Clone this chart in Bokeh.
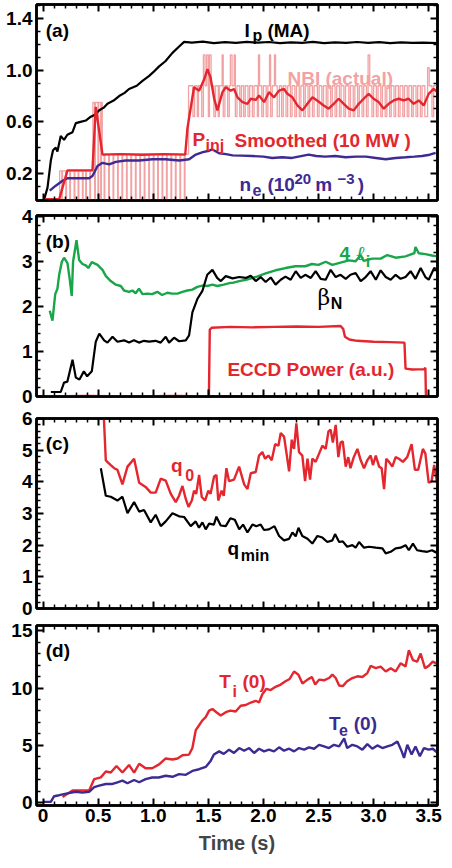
import numpy as np
from bokeh.plotting import figure
from bokeh.layouts import column
from bokeh.models import (Range1d, LinearAxis, FixedTicker, Label, PrintfTickFormatter,
                          CustomLabelingPolicy)
from bokeh.embed import file_html
from bokeh.resources import INLINE

# ---------------- data ----------------
# Panel (a)
ip_t = [0.01, 0.04, 0.07, 0.09, 0.115, 0.13, 0.16, 0.19, 0.22, 0.267, 0.297, 0.34, 0.387, 0.433,
        0.47, 0.51, 0.55, 0.584, 0.64, 0.69, 0.74, 0.78, 0.85, 0.902, 0.96, 1.0, 1.053, 1.11, 1.174,
        1.23, 1.28, 1.35, 1.45, 1.55, 1.65, 1.75, 1.85, 1.95, 2.05, 2.15, 2.25, 2.35, 2.45, 2.55,
        2.65, 2.75, 2.85, 2.95, 3.05, 3.15, 3.25, 3.35, 3.45, 3.58]
ip_v = [0.0, 0.09, 0.30, 0.38, 0.40, 0.37, 0.49, 0.46, 0.50, 0.52, 0.59, 0.60, 0.61, 0.64,
        0.655, 0.69, 0.71, 0.74, 0.765, 0.80, 0.825, 0.855, 0.88, 0.918, 0.955, 0.985, 1.03, 1.07, 1.135,
        1.18, 1.22, 1.215, 1.222, 1.21, 1.218, 1.212, 1.22, 1.214, 1.219, 1.21, 1.217, 1.212, 1.22, 1.21,
        1.216, 1.212, 1.219, 1.213, 1.218, 1.21, 1.216, 1.212, 1.215, 1.21]

pinj_t = [0.025, 0.146, 0.221, 0.448, 0.478, 0.539, 0.70, 0.90, 1.10, 1.29, 1.31, 1.37, 1.416, 1.462,
          1.492, 1.52, 1.553, 1.582, 1.628, 1.658, 1.703, 1.734, 1.764, 1.81, 1.855, 1.885, 1.93,
          1.96, 2.006, 2.05, 2.096, 2.142, 2.187, 2.217, 2.263, 2.308, 2.354, 2.399, 2.445, 2.487,
          2.547, 2.592, 2.638, 2.683, 2.729, 2.774, 2.82, 2.865, 2.91, 2.955, 3.0, 3.046, 3.092,
          3.137, 3.182, 3.228, 3.273, 3.318, 3.364, 3.41, 3.455, 3.5, 3.545, 3.58]
pinj_v = [0.0, 0.0, 0.224, 0.224, 0.715, 0.346, 0.35, 0.345, 0.35, 0.346, 0.55, 0.868, 0.842, 0.93,
          1.008, 0.944, 0.779, 0.689, 0.83, 0.868, 0.842, 0.855, 0.79, 0.753, 0.74, 0.779, 0.77,
          0.804, 0.753, 0.83, 0.79, 0.842, 0.855, 0.817, 0.79, 0.727, 0.689, 0.74, 0.79, 0.766,
          0.727, 0.702, 0.74, 0.779, 0.74, 0.702, 0.689, 0.74, 0.779, 0.817, 0.779, 0.753, 0.702,
          0.74, 0.766, 0.779, 0.766, 0.779, 0.74, 0.766, 0.727, 0.817, 0.855, 0.83]

# NBI (actual): switching times and the level held after each switch
nbi_t = [0.0, 0.15, 0.17, 0.176, 0.206, 0.212, 0.242, 0.248, 0.282, 0.288, 0.318, 0.324, 0.357, 0.363,
         0.387, 0.393, 0.424, 0.43, 0.452, 0.468, 0.474, 0.498, 0.504, 0.523, 0.529, 0.537,
         0.554, 0.56, 0.595, 0.601, 0.635, 0.641, 0.676, 0.682, 0.716, 0.722, 0.757, 0.763,
         0.797, 0.803, 0.838, 0.844, 0.878, 0.884, 0.918, 0.924, 0.959, 0.965, 1.0, 1.006,
         1.04, 1.046, 1.08, 1.086, 1.12, 1.126, 1.161, 1.167, 1.201, 1.207, 1.242, 1.248,
         1.282, 1.288, 1.32, 1.36, 1.375, 1.40, 1.41, 1.44, 1.455, 1.47, 1.485, 1.50, 1.51,
         1.525, 1.55, 1.565, 1.59, 1.60, 1.625, 1.635, 1.65, 1.675, 1.69, 1.70, 1.715, 1.735,
         1.745, 1.76, 1.785, 1.80, 1.82, 1.835, 1.86, 1.875, 1.90, 1.915, 1.945, 1.955, 1.965,
         1.985, 2.0, 2.025, 2.04, 2.055, 2.065, 2.08, 2.10, 2.11, 2.125, 2.145, 2.165, 2.18,
         2.205, 2.22, 2.245, 2.26, 2.285, 2.30, 2.325, 2.34, 2.365, 2.38, 2.405, 2.42, 2.445,
         2.46, 2.49, 2.505, 2.53, 2.545, 2.57, 2.585, 2.61, 2.625, 2.65, 2.665, 2.69, 2.705,
         2.73, 2.745, 2.775, 2.79, 2.815, 2.83, 2.855, 2.87, 2.895, 2.91, 2.935, 2.95, 2.965,
         2.985, 3.0, 3.025, 3.04, 3.065, 3.08, 3.105, 3.12, 3.145, 3.16, 3.185, 3.2, 3.225,
         3.24, 3.265, 3.28, 3.305, 3.32, 3.345, 3.36, 3.385, 3.40, 3.425, 3.44, 3.465, 3.49,
         3.505, 3.53, 3.545, 3.58]
nbi_v = [0.0, 0.22, 0.0, 0.22, 0.0, 0.22, 0.0, 0.22, 0.0, 0.22, 0.0, 0.22, 0.0, 0.22,
         0.0, 0.22, 0.0, 0.22, 0.75, 0.0, 0.75, 0.0, 0.75, 0.0, 0.75, 0.35,
         0.0, 0.35, 0.0, 0.35, 0.0, 0.35, 0.0, 0.35, 0.0, 0.35, 0.0, 0.35,
         0.0, 0.35, 0.0, 0.35, 0.0, 0.35, 0.0, 0.35, 0.0, 0.35, 0.0, 0.35,
         0.0, 0.35, 0.0, 0.35, 0.0, 0.35, 0.0, 0.35, 0.0, 0.35, 0.0, 0.35,
         0.0, 0.35, 0.88, 0.64, 0.88, 0.64, 0.88, 0.64, 1.12, 0.88, 1.12, 0.64, 1.12,
         0.88, 0.64, 0.88, 0.64, 0.88, 1.12, 0.64, 0.88, 0.64, 0.88, 1.12, 0.88, 1.12,
         0.64, 0.88, 0.64, 0.88, 0.64, 0.88, 0.64, 0.88, 0.64, 0.88, 0.64, 1.12, 0.88,
         0.64, 0.88, 0.64, 0.88, 1.12, 0.64, 0.88, 1.12, 0.88, 0.64, 0.88, 0.64, 0.88,
         0.64, 0.88, 0.64, 0.88, 0.64, 0.88, 0.64, 0.88, 0.64, 0.88, 0.64, 0.88, 0.64,
         0.88, 0.64, 0.88, 0.64, 0.88, 0.64, 0.88, 0.64, 0.88, 0.64, 0.88, 0.64, 0.88,
         0.64, 0.88, 0.64, 0.88, 0.64, 0.88, 0.64, 0.88, 0.64, 0.88, 0.64, 1.12, 0.88,
         0.64, 0.88, 0.64, 0.88, 0.64, 0.88, 0.64, 0.88, 0.64, 0.88, 0.64, 0.88, 0.64,
         0.88, 0.64, 0.88, 0.64, 0.88, 0.64, 0.88, 0.64, 0.88, 0.64, 0.88, 0.64, 1.02,
         0.88, 0.64, 0.88, 0.88]

ne_t = [0.06, 0.115, 0.176, 0.221, 0.297, 0.418, 0.448, 0.494, 0.539, 0.60, 0.66, 0.75, 0.87,
        0.993, 1.11, 1.235, 1.326, 1.386, 1.45, 1.507, 1.537, 1.598, 1.66, 1.72, 1.80, 1.90,
        2.0, 2.08, 2.17, 2.26, 2.41, 2.48, 2.56, 2.65, 2.747, 2.84, 2.93, 3.02, 3.11, 3.2,
        3.29, 3.37, 3.44, 3.51, 3.563]
ne_v = [0.066, 0.105, 0.143, 0.163, 0.163, 0.163, 0.18, 0.257, 0.282, 0.27, 0.29, 0.30, 0.30,
        0.31, 0.31, 0.30, 0.31, 0.346, 0.365, 0.376, 0.386, 0.356, 0.35, 0.34, 0.338, 0.335,
        0.33, 0.32, 0.325, 0.32, 0.346, 0.335, 0.33, 0.335, 0.325, 0.33, 0.33, 0.32, 0.31,
        0.32, 0.325, 0.33, 0.335, 0.345, 0.36]

# Panel (b)
bn_t = [0.07, 0.16, 0.19, 0.22, 0.267, 0.297, 0.33, 0.37, 0.40, 0.442, 0.478, 0.51, 0.554, 0.584,
        0.63, 0.675, 0.735, 0.78, 0.825, 0.87, 0.916, 0.962, 1.02, 1.067, 1.113, 1.143, 1.189,
        1.234, 1.295, 1.325, 1.355, 1.40, 1.446, 1.49, 1.537, 1.58, 1.613, 1.658, 1.72, 1.78,
        1.84, 1.885, 1.93, 1.975, 2.02, 2.066, 2.11, 2.157, 2.20, 2.247, 2.293, 2.338, 2.38,
        2.43, 2.474, 2.52, 2.565, 2.61, 2.656, 2.70, 2.747, 2.79, 2.837, 2.883, 2.928, 2.973,
        3.02, 3.064, 3.11, 3.155, 3.20, 3.245, 3.29, 3.336, 3.38, 3.427, 3.47, 3.50, 3.55, 3.58]
bn_v = [0.10, 0.10, 0.31, 0.33, 0.82, 0.42, 0.38, 0.56, 0.45, 0.56, 1.22, 1.40, 1.25, 1.20,
        1.33, 1.22, 1.25, 1.20, 1.25, 1.20, 1.24, 1.22, 1.24, 1.20, 1.33, 1.20, 1.31,
        1.23, 1.25, 1.36, 1.875, 2.17, 2.35, 2.71, 2.82, 2.64, 2.57, 2.68, 2.63, 2.66,
        2.64, 2.69, 2.57, 2.66, 2.55, 2.65, 2.49, 2.60, 2.67, 2.60, 2.79, 2.64, 2.71,
        2.64, 2.79, 2.62, 2.60, 2.82, 2.66, 2.71, 2.62, 2.71, 2.75, 2.57, 2.66, 2.79,
        2.60, 2.81, 2.66, 2.60, 2.71, 2.62, 2.66, 2.79, 2.62, 2.86, 2.66, 2.60, 2.86, 2.82]

li_t = [0.06, 0.085, 0.11, 0.13, 0.146, 0.17, 0.19, 0.221, 0.24, 0.26, 0.272, 0.303, 0.327, 0.357,
        0.387, 0.41, 0.442, 0.494, 0.539, 0.57, 0.614, 0.66, 0.705, 0.735, 0.78, 0.81, 0.84,
        0.87, 0.902, 0.946, 0.99, 1.037, 1.08, 1.128, 1.17, 1.22, 1.264, 1.31, 1.355, 1.40,
        1.446, 1.49, 1.537, 1.58, 1.64, 1.70, 1.72, 1.78, 1.84, 1.93, 2.02, 2.11, 2.20, 2.29,
        2.38, 2.44, 2.50, 2.565, 2.625, 2.70, 2.776, 2.837, 2.883, 2.91, 2.988, 3.064, 3.125,
        3.20, 3.29, 3.37, 3.38, 3.41, 3.47, 3.53, 3.58]
li_v = [1.91, 1.69, 2.28, 2.40, 2.71, 3.00, 3.09, 2.97, 2.64, 2.24, 3.00, 3.48, 3.04, 2.95,
        2.92, 2.86, 2.99, 2.93, 2.82, 2.68, 2.57, 2.49, 2.46, 2.36, 2.33, 2.36, 2.30,
        2.40, 2.28, 2.29, 2.28, 2.33, 2.26, 2.31, 2.29, 2.29, 2.33, 2.36, 2.38, 2.44,
        2.47, 2.46, 2.49, 2.46, 2.49, 2.53, 2.53, 2.57, 2.60, 2.66, 2.74, 2.81, 2.86, 2.90,
        2.90, 2.95, 2.93, 3.00, 2.93, 2.98, 3.03, 3.01, 3.15, 3.02, 3.07, 3.07, 3.15,
        3.09, 3.12, 3.19, 3.33, 3.19, 3.17, 3.14, 3.12]

eccd_t = [0.01, 0.4, 0.8, 1.2, 1.505, 1.513, 1.53, 1.7, 1.9, 2.1, 2.3, 2.5, 2.70, 2.725, 2.74,
          2.78, 2.85, 3.0, 3.15, 3.28, 3.29, 3.35, 3.46, 3.47, 3.475, 3.58]
eccd_v = [0.0, 0.01, 0.0, 0.01, 0.0, 1.49, 1.53, 1.55, 1.54, 1.55, 1.56, 1.55, 1.57, 1.50, 1.33,
          1.27, 1.24, 1.22, 1.21, 1.20, 0.62, 0.60, 0.61, 0.64, 0.0, 0.0]

# Panel (c)
q0_t = [0.548, 0.569, 0.614, 0.645, 0.675, 0.72, 0.766, 0.826, 0.872, 0.93, 0.977, 1.022, 1.068,
        1.113, 1.159, 1.204, 1.234, 1.265, 1.295, 1.32, 1.35, 1.37, 1.39, 1.416, 1.44, 1.47,
        1.50, 1.52, 1.552, 1.573, 1.59, 1.62, 1.64, 1.664, 1.688, 1.733, 1.779, 1.825, 1.855,
        1.885, 1.93, 1.96, 1.99, 2.015, 2.045, 2.075, 2.106, 2.136, 2.157, 2.187, 2.208, 2.233,
        2.257, 2.278, 2.299, 2.323, 2.353, 2.378, 2.40, 2.423, 2.444, 2.474, 2.505, 2.535,
        2.565, 2.59, 2.61, 2.63, 2.656, 2.68, 2.70, 2.72, 2.747, 2.77, 2.79, 2.82, 2.853,
        2.883, 2.913, 2.943, 2.973, 2.994, 3.02, 3.05, 3.073, 3.095, 3.115, 3.14, 3.17, 3.20,
        3.23, 3.266, 3.305, 3.345, 3.375, 3.405, 3.447, 3.47, 3.50, 3.526, 3.55, 3.58]
q0_v = [6.3, 4.68, 4.53, 4.43, 4.38, 3.92, 4.48, 4.73, 3.97, 3.84, 3.66, 3.66, 4.10,
        4.04, 3.62, 3.36, 3.56, 3.87, 3.46, 3.21, 3.41, 3.72, 3.62, 4.22, 3.52, 3.41,
        3.72, 3.62, 4.17, 4.22, 3.41, 3.72, 3.56, 4.43, 4.02, 4.07, 4.48, 3.92, 3.77,
        4.27, 4.31, 4.83, 4.94, 4.73, 4.83, 4.68, 5.19, 5.14, 5.54, 5.43, 4.94, 4.33,
        5.33, 5.04, 5.85, 4.94, 4.83, 4.02, 4.73, 4.07, 4.73, 4.63, 4.89, 5.14,
        5.04, 5.59, 5.65, 5.24, 5.80, 4.78, 5.24, 5.28, 4.48, 4.78, 4.43, 4.78, 5.04,
        4.68, 4.43, 4.68, 4.83, 4.53, 4.83, 4.48, 4.43, 3.77, 4.73, 4.63, 4.48, 4.78,
        4.73, 4.63, 4.78, 5.19, 4.38, 4.38, 5.04, 4.89, 3.97, 4.02, 4.53, 3.87]

qmin_t = [0.524, 0.569, 0.614, 0.675, 0.72, 0.766, 0.826, 0.872, 0.916, 0.977, 1.022, 1.068, 1.113,
          1.174, 1.234, 1.28, 1.34, 1.385, 1.415, 1.446, 1.476, 1.507, 1.55, 1.573, 1.612, 1.658,
          1.70, 1.74, 1.78, 1.815, 1.855, 1.90, 1.935, 1.975, 2.005, 2.05, 2.10, 2.142, 2.187,
          2.233, 2.263, 2.293, 2.318, 2.353, 2.40, 2.444, 2.49, 2.535, 2.58, 2.626, 2.65, 2.687,
          2.72, 2.76, 2.807, 2.837, 2.868, 2.913, 2.958, 3.02, 3.08, 3.11, 3.155, 3.20, 3.245,
          3.29, 3.32, 3.357, 3.395, 3.44, 3.487, 3.53, 3.58]
qmin_v = [4.43, 3.56, 3.53, 3.41, 3.53, 3.01, 3.36, 3.06, 3.11, 2.72, 2.96, 2.60, 2.75,
          3.01, 2.91, 2.89, 2.60, 2.75, 2.55, 2.72, 2.50, 2.68, 2.65, 2.90, 2.62, 2.60,
          2.85, 2.80, 2.50, 2.65, 2.40, 2.65, 2.60, 2.65, 2.48, 2.50, 2.60, 2.29, 2.15,
          2.20, 2.40, 2.28, 2.55, 2.29, 2.20, 2.05, 2.29, 2.24, 2.10, 2.15, 2.35, 2.10,
          2.12, 1.95, 2.00, 1.92, 2.10, 1.92, 1.95, 1.92, 1.90, 1.74, 1.79, 1.90, 1.92,
          2.00, 1.84, 2.05, 1.84, 1.81, 1.79, 1.84, 1.74]

# Panel (d)
ti_t = [0.176, 0.267, 0.418, 0.464, 0.524, 0.569, 0.614, 0.666, 0.72, 0.78, 0.826, 0.872, 0.93,
        0.99, 1.053, 1.113, 1.174, 1.22, 1.265, 1.325, 1.355, 1.386, 1.416, 1.446, 1.476, 1.507,
        1.537, 1.573, 1.612, 1.658, 1.70, 1.748, 1.794, 1.84, 1.885, 1.93, 1.96, 1.99, 2.027,
        2.066, 2.11, 2.157, 2.20, 2.238, 2.278, 2.318, 2.354, 2.40, 2.44, 2.47, 2.505, 2.55,
        2.595, 2.626, 2.656, 2.687, 2.72, 2.76, 2.807, 2.853, 2.898, 2.943, 2.973, 3.02, 3.064,
        3.11, 3.155, 3.20, 3.245, 3.29, 3.32, 3.357, 3.395, 3.427, 3.466, 3.50, 3.537, 3.58]
ti_v = [0.49, 1.05, 1.05, 2.05, 2.2, 2.71, 2.62, 3.19, 2.62, 3.28, 2.62, 3.39, 2.99,
        2.99, 3.33, 3.85, 3.76, 3.85, 4.13, 4.19, 4.76, 6.33, 6.75, 7.18, 7.46, 8.03,
        8.17, 7.89, 7.61, 7.89, 8.03, 7.95, 8.46, 8.52, 8.74, 8.89, 8.74, 9.46, 9.94,
        9.83, 10.11, 10.31, 10.60, 10.80, 11.45, 11.17, 10.40, 10.74, 10.97, 10.31, 10.74, 10.68,
        10.88, 11.17, 10.88, 10.23, 10.17, 10.60, 10.88, 11.03, 10.97, 11.31, 11.94, 11.74, 11.88,
        11.45, 11.74, 11.45, 12.17, 11.88, 13.31, 12.45, 12.31, 13.02, 11.74, 11.94, 12.31, 12.11]

te_t = [0.0, 0.07, 0.10, 0.146, 0.22, 0.297, 0.357, 0.418, 0.464, 0.509, 0.569, 0.63, 0.675,
        0.72, 0.766, 0.826, 0.872, 0.93, 0.99, 1.05, 1.113, 1.174, 1.234, 1.295, 1.355, 1.416,
        1.476, 1.52, 1.55, 1.598, 1.64, 1.688, 1.733, 1.78, 1.825, 1.87, 1.915, 1.96, 2.005,
        2.05, 2.096, 2.142, 2.187, 2.233, 2.278, 2.323, 2.37, 2.414, 2.46, 2.505, 2.55, 2.595,
        2.64, 2.687, 2.733, 2.76, 2.807, 2.853, 2.898, 2.943, 2.988, 3.034, 3.08, 3.125, 3.17,
        3.216, 3.255, 3.276, 3.306, 3.345, 3.38, 3.42, 3.457, 3.50, 3.537, 3.58]
te_v = [0.06, 0.06, 0.55, 0.64, 0.8, 0.94, 0.86, 0.94, 1.34, 1.48, 1.62, 1.62, 1.77,
        1.91, 1.68, 1.97, 1.77, 2.05, 2.19, 2.19, 2.34, 2.25, 2.48, 2.42, 2.76, 2.91,
        3.11, 3.62, 4.19, 4.47, 4.25, 4.62, 4.33, 4.76, 4.53, 4.76, 4.33, 4.70, 4.47,
        4.62, 4.47, 4.82, 4.53, 4.70, 4.47, 4.76, 4.62, 4.82, 4.70, 5.04, 4.90, 4.76,
        5.04, 4.90, 5.61, 4.76, 5.04, 4.90, 4.62, 5.10, 4.70, 4.99, 4.76, 4.90, 5.04,
        5.33, 4.47, 3.90, 5.04, 4.19, 4.90, 4.05, 4.76, 4.62, 4.70, 4.33]

x_ticks = [0, 0.5, 1.0, 1.5, 2.0, 2.5, 3.0, 3.5]

# ---------------- styling ----------------
FONT = "Liberation Sans"
RED = "#e4262f"
PINK = "#f3a2a4"
PURPLE = "#3d2a92"
GREEN = "#19a64a"
BLACK = "#000000"

xr = Range1d(-0.06, 3.58)
x_minor = [round(0.1 * k, 2) for k in range(0, 36) if k % 5 != 0]


def style_axis(ax, ticker, labels=True, fmt=None):
    ax.ticker = ticker
    ax.axis_line_width = 2.5
    ax.axis_line_color = "black"
    ax.major_tick_in = 7
    ax.major_tick_out = 0
    ax.minor_tick_in = 4
    ax.minor_tick_out = 0
    ax.major_tick_line_width = 2
    ax.minor_tick_line_width = 1.5
    if fmt is not None:
        ax.formatter = fmt
    if labels:
        ax.major_label_text_font = FONT
        ax.major_label_text_font_style = "bold"
        ax.major_label_text_font_size = "19px"
        ax.major_label_text_color = "black"
        ax.major_label_standoff = 4
    else:
        ax.major_label_policy = CustomLabelingPolicy(code="return []")
        ax.major_label_text_font_size = "1px"
        ax.major_label_standoff = 0


def make_panel(fheight, yr, btop, bbot, yticks, yminor, yfmt, xlabels):
    p = figure(frame_width=401, frame_height=fheight, x_range=xr, y_range=Range1d(*yr),
               output_backend="svg", toolbar_location=None,
               min_border_left=36, min_border_right=7,
               min_border_top=btop, min_border_bottom=bbot)
    p.grid.visible = False
    p.outline_line_color = "black"
    p.outline_line_width = 2.5
    bottom = p.below[0]
    style_axis(bottom, FixedTicker(ticks=x_ticks, minor_ticks=x_minor), labels=xlabels,
               fmt=PrintfTickFormatter(format="%.1f") if xlabels else None)
    if xlabels:
        bottom.major_label_overrides = {0: "0"}
        bottom.major_label_standoff = 3
    style_axis(p.left[0], FixedTicker(ticks=yticks, minor_ticks=yminor), labels=True, fmt=yfmt)
    top = LinearAxis()
    style_axis(top, FixedTicker(ticks=x_ticks, minor_ticks=x_minor), labels=False)
    p.add_layout(top, "above")
    right = LinearAxis()
    style_axis(right, FixedTicker(ticks=yticks, minor_ticks=yminor), labels=False)
    p.add_layout(right, "right")
    return p


def lab(p, x, y, text, color, size="19px", style="bold", font=FONT):
    p.add_layout(Label(x=x, y=y, text=text, text_color=color, text_font=font,
                       text_font_size=size, text_font_style=style,
                       text_align="left", text_baseline="alphabetic"))


# ---------------- panel (a) ----------------
pa = make_panel(196, (-0.01, 1.51), 2, 2, [0.2, 0.6, 1.0, 1.4],
                [0.1, 0.3, 0.4, 0.5, 0.7, 0.8, 0.9, 1.1, 1.2, 1.3, 1.5],
                PrintfTickFormatter(format="%.1f"), False)
pa.step(nbi_t, nbi_v, mode="after", line_color=PINK, line_width=1.3)
pa.line(ip_t, ip_v, line_color=BLACK, line_width=2.2)
pa.line(ne_t, ne_v, line_color=PURPLE, line_width=2.4)
pa.line(pinj_t, pinj_v, line_color=RED, line_width=2.4)
lab(pa, 0.024, 1.305, "(a)", BLACK)
lab(pa, 1.827, 1.308, "I", BLACK)
lab(pa, 1.90, 1.27, "p", BLACK, size="16px")
lab(pa, 2.036, 1.308, "(MA)", BLACK)
lab(pa, 2.218, 0.937, "NBI (actual)", PINK)
lab(pa, 1.356, 0.46, "P", RED)
lab(pa, 1.474, 0.416, "inj", RED, size="16px")
lab(pa, 1.737, 0.455, "Smoothed (10 MW )", RED)
lab(pa, 1.782, 0.117, "n", PURPLE)
lab(pa, 1.90, 0.069, "e", PURPLE, size="16px")
lab(pa, 2.036, 0.117, "(10", PURPLE)
lab(pa, 2.281, 0.158, "20", PURPLE, size="15px")
lab(pa, 2.47, 0.117, "m", PURPLE)
lab(pa, 2.672, 0.158, "\u22123", PURPLE, size="15px")
lab(pa, 2.855, 0.117, ")", PURPLE)

# ---------------- panel (b) ----------------
pb = make_panel(181, (0.0, 4.03), 11, 11, [0, 1, 2, 3, 4],
                [0.2, 0.4, 0.6, 0.8, 1.2, 1.4, 1.6, 1.8, 2.2, 2.4, 2.6, 2.8, 3.2, 3.4, 3.6, 3.8],
                PrintfTickFormatter(format="%d"), False)
pb.line(eccd_t, eccd_v, line_color=RED, line_width=2.4)
pb.line(li_t, li_v, line_color=GREEN, line_width=2.4)
pb.line(bn_t, bn_v, line_color=BLACK, line_width=2.2)
lab(pb, 0.024, 3.457, "(b)", BLACK)
lab(pb, 2.69, 3.19, "4", GREEN)
lab(pb, 2.84, 3.19, "\u2113", GREEN, size="20px", style="italic", font="DejaVu Serif")
lab(pb, 2.928, 3.0, "i", GREEN, size="16px")
lab(pb, 2.49, 2.21, "\u03b2", BLACK, size="22px", style="normal", font="DejaVu Serif")
lab(pb, 2.61, 2.06, "N", BLACK, size="16px")
lab(pb, 1.673, 0.60, "ECCD Power (a.u.)", RED)

# ---------------- panel (c) ----------------
pc = make_panel(190, (0.0, 6.0), 11, 11, [0, 1, 2, 3, 4, 5, 6],
                [v / 5 for v in range(0, 31) if v % 5 != 0],
                PrintfTickFormatter(format="%d"), False)
pc.line(q0_t, q0_v, line_color=RED, line_width=2.4)
pc.line(qmin_t, qmin_v, line_color=BLACK, line_width=2.2)
lab(pc, 0.024, 5.21, "(c)", BLACK)
lab(pc, 1.16, 4.52, "q", RED)
lab(pc, 1.29, 4.22, "0", RED, size="16px")
lab(pc, 1.673, 1.89, "q", BLACK)
lab(pc, 1.794, 1.68, "min", BLACK, size="16px")

# ---------------- panel (d) ----------------
pd_ = make_panel(180, (-0.26, 15.47), 6, 51, [0, 5, 10, 15],
                 [v for v in range(0, 16) if v % 5 != 0],
                 PrintfTickFormatter(format="%d"), True)
pd_.line(ti_t, ti_v, line_color=RED, line_width=2.4)
pd_.line(te_t, te_v, line_color=PURPLE, line_width=2.4)
xa = pd_.below[0]
xa.axis_label = "Time (s)"
xa.axis_label_text_font = FONT
xa.axis_label_text_font_style = "bold"
xa.axis_label_text_font_size = "20px"
xa.axis_label_standoff = 7
lab(pd_, 0.024, 13.25, "(d)", BLACK)
lab(pd_, 1.598, 10.6, "T", RED)
lab(pd_, 1.719, 9.74, "i", RED, size="16px")
lab(pd_, 1.81, 10.6, "(0)", RED)
lab(pd_, 2.596, 6.9, "T", PURPLE)
lab(pd_, 2.687, 6.32, "e", PURPLE, size="16px")
lab(pd_, 2.82, 6.9, "(0)", PURPLE)

layout = column(pa, pb, pc, pd_, spacing=0)
open("out.html", "w").write(file_html(layout, INLINE))
